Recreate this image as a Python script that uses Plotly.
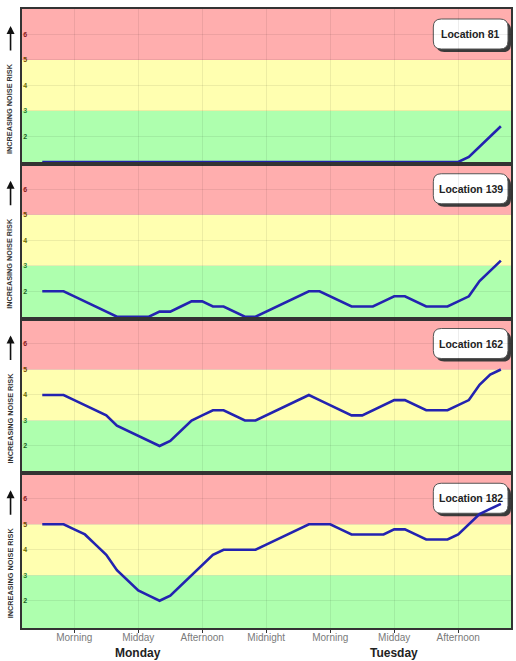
import plotly.graph_objects as go
from plotly.subplots import make_subplots

HOURS = list(range(3, 47))
LOCATIONS = ["Location 81", "Location 139", "Location 162", "Location 182"]

loc81 = [1.0, 1.0, 1.0, 1.0, 1.0, 1.0, 1.0, 1.0, 1.0, 1.0,
         1.0, 1.0, 1.0, 1.0, 1.0, 1.0, 1.0, 1.0, 1.0, 1.0,
         1.0, 1.0, 1.0, 1.0, 1.0, 1.0, 1.0, 1.0, 1.0, 1.0,
         1.0, 1.0, 1.0, 1.0, 1.0, 1.0, 1.0, 1.0, 1.0, 1.0,
         1.2, 1.6, 2.0, 2.4]
loc139 = [2.0, 2.0, 2.0, 1.8, 1.6, 1.4, 1.2, 1.0, 1.0, 1.0,
          1.0, 1.2, 1.2, 1.4, 1.6, 1.6, 1.4, 1.4, 1.2, 1.0,
          1.0, 1.2, 1.4, 1.6, 1.8, 2.0, 2.0, 1.8, 1.6, 1.4,
          1.4, 1.4, 1.6, 1.8, 1.8, 1.6, 1.4, 1.4, 1.4, 1.6,
          1.8, 2.4, 2.8, 3.2]
loc162 = [4.0, 4.0, 4.0, 3.8, 3.6, 3.4, 3.2, 2.8, 2.6, 2.4,
          2.2, 2.0, 2.2, 2.6, 3.0, 3.2, 3.4, 3.4, 3.2, 3.0,
          3.0, 3.2, 3.4, 3.6, 3.8, 4.0, 3.8, 3.6, 3.4, 3.2,
          3.2, 3.4, 3.6, 3.8, 3.8, 3.6, 3.4, 3.4, 3.4, 3.6,
          3.8, 4.4, 4.8, 5.0]
loc182 = [5.0, 5.0, 5.0, 4.8, 4.6, 4.2, 3.8, 3.2, 2.8, 2.4,
          2.2, 2.0, 2.2, 2.6, 3.0, 3.4, 3.8, 4.0, 4.0, 4.0,
          4.0, 4.2, 4.4, 4.6, 4.8, 5.0, 5.0, 5.0, 4.8, 4.6,
          4.6, 4.6, 4.6, 4.8, 4.8, 4.6, 4.4, 4.4, 4.4, 4.6,
          5.0, 5.4, 5.6, 5.8]
SERIES = [loc81, loc139, loc162, loc182]

TICK_HOURS = [6, 12, 18, 24, 30, 36, 42]
TICK_LABELS = ["Morning", "Midday", "Afternoon", "Midnight", "Morning", "Midday", "Afternoon"]
DAY_HOURS = [12, 36]
DAY_LABELS = ["Monday", "Tuesday"]

Y_TICKS = [2, 3, 4, 5, 6]
Y_TICK_COLORS = ["#1f5f1f", "#2f7f2f", "#6b6b00", "#7a4a00", "#8b1a1a"]
BANDS = [(0.9, 3, "#aeffae"), (3, 5, "#ffffb0"), (5, 7, "#ffaeae")]

W, H = 516, 661
ML, MR, MT, MB = 22, 3, 9, 33
PW, PH = W - ML - MR, H - MT - MB
PANEL_H = PH / 4
FONT = "Arial, Liberation Sans, sans-serif"


def px_x(px):
    return (px - ML) / PW


def px_y(py):
    return (H - MB - py) / PH


def rounded_path(x0, y0, x1, y1, r, top):
    # pixel box -> path in the subplot's domain fractions
    def X(v):
        return (v - ML) / PW

    def Y(v):
        return (top + PANEL_H - v) / PANEL_H

    return (f"M {X(x0 + r)},{Y(y0)} L {X(x1 - r)},{Y(y0)} "
            f"Q {X(x1)},{Y(y0)} {X(x1)},{Y(y0 + r)} "
            f"L {X(x1)},{Y(y1 - r)} Q {X(x1)},{Y(y1)} {X(x1 - r)},{Y(y1)} "
            f"L {X(x0 + r)},{Y(y1)} Q {X(x0)},{Y(y1)} {X(x0)},{Y(y1 - r)} "
            f"L {X(x0)},{Y(y0 + r)} Q {X(x0)},{Y(y0)} {X(x0 + r)},{Y(y0)} Z")


fig = make_subplots(rows=4, cols=1, shared_xaxes=True, vertical_spacing=0)

for i, (name, vals) in enumerate(zip(LOCATIONS, SERIES)):
    row = i + 1
    fig.add_trace(go.Scatter(x=HOURS, y=vals, mode="lines",
                             line=dict(color="#2323b0", width=2.6),
                             showlegend=False, hoverinfo="skip"),
                  row=row, col=1)
    yref = "y" if row == 1 else f"y{row}"
    xdom = "x domain" if row == 1 else f"x{row} domain"
    ydom = "y domain" if row == 1 else f"y{row} domain"
    for (b0, b1, c) in BANDS:
        fig.add_shape(type="rect", xref=xdom, yref=yref, x0=0, x1=1, y0=b0, y1=b1,
                      fillcolor=c, line=dict(width=0), layer="below")
    top = MT + i * PANEL_H
    bx0, bx1 = 435, 510
    by0, by1 = top + 10, top + 40
    fig.add_shape(type="path", xref=xdom, yref=ydom,
                  path=rounded_path(bx0 + 3, by0 + 3, bx1 + 3, by1 + 3, 8, top),
                  fillcolor="#3a3a3a", line=dict(width=0), layer="below")
    fig.add_shape(type="path", xref=xdom, yref=ydom,
                  path=rounded_path(bx0, by0, bx1, by1, 8, top),
                  fillcolor="white", line=dict(color="#555", width=1), layer="below")
    fig.add_annotation(xref="paper", yref="paper", x=px_x((bx0 + bx1) / 2),
                       y=px_y((by0 + by1) / 2), text=f"<b>{name}</b>",
                       showarrow=False, font=dict(family=FONT, size=10.5, color="#222"),
                       xanchor="center", yanchor="middle")
    fig.add_annotation(xref="paper", yref="paper", x=px_x(10), y=px_y(top + 100),
                       text="<b>INCREASING NOISE RISK</b>", textangle=-90,
                       showarrow=False, font=dict(family=FONT, size=7.3, color="#333"),
                       xanchor="center", yanchor="middle")
    fig.add_annotation(xref="paper", yref="paper", x=px_x(10.5), y=px_y(top + 17),
                       text="", showarrow=True, ax=0, ay=26, arrowhead=2,
                       arrowsize=1, arrowwidth=1.6, arrowcolor="#111")

    fig.update_yaxes(row=row, col=1, range=[0.93, 7], tickvals=Y_TICKS,
                     ticktext=[f"<span style='color:{c}'><b>{t}</b></span>"
                               for t, c in zip(Y_TICKS, Y_TICK_COLORS)],
                     ticklabelposition="inside", tickfont=dict(family=FONT, size=7),
                     showgrid=True, gridcolor="rgba(0,0,0,0.07)", gridwidth=1,
                     zeroline=False, showline=True, linecolor="#333", linewidth=1.5,
                     mirror=True, ticks="", layer="below traces", fixedrange=True)
    fig.update_xaxes(row=row, col=1, range=[1.1, 46.95], tickvals=TICK_HOURS,
                     ticktext=TICK_LABELS, showgrid=True, gridcolor="rgba(0,0,0,0.07)",
                     gridwidth=1, zeroline=False, showline=True, linecolor="#333",
                     linewidth=1.5, mirror=True, layer="below traces",
                     tickfont=dict(family=FONT, size=10, color="#7a7a7a"),
                     ticks="outside" if row == 4 else "", ticklen=3, tickcolor="#333",
                     ticklabelstandoff=-4,
                     showticklabels=(row == 4), fixedrange=True)

for h, lbl in zip(DAY_HOURS, DAY_LABELS):
    fig.add_annotation(xref="x4", yref="paper", x=h, y=px_y(653), text=f"<b>{lbl}</b>",
                       showarrow=False, font=dict(family=FONT, size=12, color="#222"),
                       xanchor="center", yanchor="middle")

fig.update_layout(width=W, height=H, margin=dict(l=ML, r=MR, t=MT, b=MB),
                  paper_bgcolor="white", plot_bgcolor="rgba(0,0,0,0)",
                  showlegend=False)

fig.write_html("out.html", config={"displayModeBar": False},
               post_script="document.body.style.margin='0';document.body.style.overflow='hidden';")
